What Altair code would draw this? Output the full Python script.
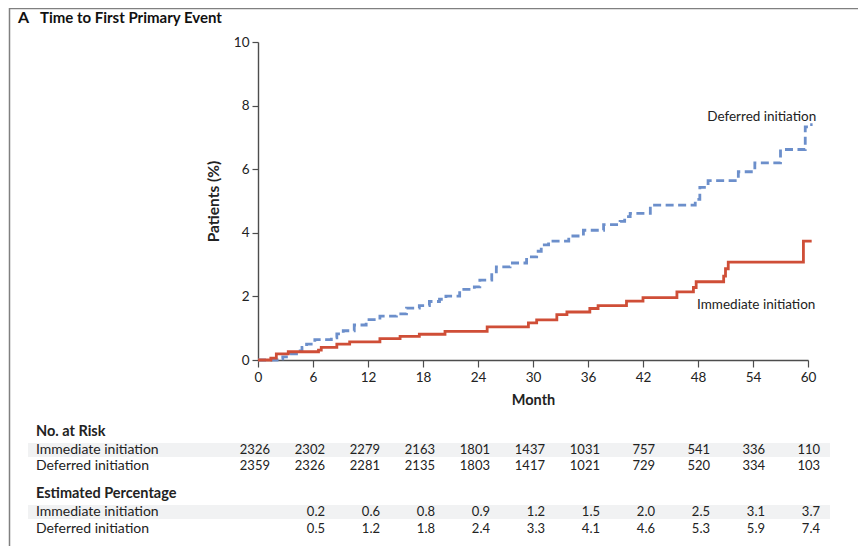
import altair as alt
import pandas as pd

# ---------------- data ----------------
imm_month = [0, 1.4, 2.0, 3.3, 6.6, 6.9, 8.6, 10.0, 13.3, 15.5, 17.6, 20.4, 25.0, 29.5,
             30.4, 32.6, 33.7, 36.2, 37.1, 40.2, 42.0, 45.7, 47.5, 47.8, 50.8, 51.0,
             51.3, 59.5, 60.4]
imm_pct = [0, 0.06, 0.19, 0.26, 0.31, 0.40, 0.50, 0.57, 0.67, 0.74, 0.81, 0.90, 1.04, 1.17,
           1.26, 1.43, 1.51, 1.62, 1.71, 1.85, 1.96, 2.14, 2.28, 2.46, 2.64, 2.87,
           3.08, 3.74, 3.74]

def_month = [0, 2.3, 2.7, 3.5, 4.2, 4.8, 5.3, 6.2, 8.0, 8.6, 9.3, 10.5, 11.8, 13.3, 15.1,
             16.2, 17.6, 18.7, 19.8, 20.5, 22.0, 23.6, 24.2, 25.5, 26.0, 27.5, 29.3, 30.4,
             30.9, 31.7, 33.9, 35.5, 37.7, 39.5, 40.0, 40.6, 42.8, 47.7, 48.2, 49.1, 52.4,
             54.2, 57.0, 59.7, 60.2, 60.5]
def_pct = [0, 0.04, 0.10, 0.19, 0.29, 0.40, 0.50, 0.64, 0.70, 0.82, 0.92, 1.10, 1.27, 1.38, 1.45,
           1.63, 1.71, 1.84, 1.91, 2.01, 2.22, 2.30, 2.51, 2.77, 2.93, 3.05, 3.24, 3.42,
           3.62, 3.74, 3.90, 4.08, 4.26, 4.36, 4.51, 4.61, 4.87, 5.05, 5.43, 5.64, 5.92,
           6.20, 6.62, 7.33, 7.40, 7.40]

tick_months = [0, 6, 12, 18, 24, 30, 36, 42, 48, 54, 60]
y_ticks = [0, 2, 4, 6, 8, 10]

risk_imm = [2326, 2302, 2279, 2163, 1801, 1437, 1031, 757, 541, 336, 110]
risk_def = [2359, 2326, 2281, 2135, 1803, 1417, 1021, 729, 520, 334, 103]

est_months = [6, 12, 18, 24, 30, 36, 42, 48, 54, 60]
est_imm = ["0.2", "0.6", "0.8", "0.9", "1.2", "1.5", "2.0", "2.5", "3.1", "3.7"]
est_def = ["0.5", "1.2", "1.8", "2.4", "3.3", "4.1", "4.6", "5.3", "5.9", "7.4"]

# ---------------- style ----------------
FONT = "Lato"
RED = "#CF4E37"
BLUE = "#6C8FCB"
TXT = "#222222"
AX = "#4d4d4d"
W, H = 550, 318

xscale = alt.Scale(domain=[0, 60], nice=False, zero=False)
yscale = alt.Scale(domain=[0, 10], nice=False)

imm_df = pd.DataFrame({"month": imm_month, "pct": imm_pct})
def_df = pd.DataFrame({"month": def_month, "pct": def_pct})
one = pd.DataFrame({"a": [0]})

x_axis = alt.Axis(values=tick_months, title="Month", grid=False, tickSize=7, labelPadding=3,
                  domainColor=AX, tickColor=AX, domainWidth=1.4, tickWidth=1.2,
                  labelFont=FONT, labelFontSize=13.5, labelColor=TXT, labelFlush=False,
                  titleFont=FONT, titleFontSize=14.5, titleFontWeight="bold", titleColor=TXT,
                  titlePadding=10)
y_axis = alt.Axis(values=y_ticks, title="Patients (%)", grid=False, tickSize=6, labelPadding=3,
                  domainColor=AX, tickColor=AX, domainWidth=1.4, tickWidth=1.2,
                  labelFont=FONT, labelFontSize=13.5, labelColor=TXT, labelFlush=False,
                  titleFont=FONT, titleFontSize=15.5, titleFontWeight="bold", titleColor=TXT,
                  titlePadding=12)

deferred = alt.Chart(def_df).mark_line(interpolate="step-after", color=BLUE, strokeWidth=2.8,
                                       strokeDash=[8, 4.5], clip=False).encode(
    x=alt.X("month:Q", scale=xscale, axis=x_axis),
    y=alt.Y("pct:Q", scale=yscale, axis=y_axis),
)
immediate = alt.Chart(imm_df).mark_line(interpolate="step-after", color=RED, strokeWidth=2.8,
                                        clip=False).encode(
    x=alt.X("month:Q", scale=xscale, axis=x_axis),
    y=alt.Y("pct:Q", scale=yscale, axis=y_axis),
)

lab_def = alt.Chart(one).mark_text(text="Deferred initiation", font=FONT, fontSize=13.5, color=TXT,
                                   align="right", baseline="middle").encode(
    x=alt.datum(60.9, scale=xscale), y=alt.datum(7.65, scale=yscale))
lab_imm = alt.Chart(one).mark_text(text="Immediate initiation", font=FONT, fontSize=13.5, color=TXT,
                                   align="left", baseline="middle").encode(
    x=alt.datum(47.9, scale=xscale), y=alt.datum(1.72, scale=yscale))

# title
t_a = alt.Chart(one).mark_text(text="A", font=FONT, fontSize=16, fontWeight="bold", color="#111",
                               align="left", baseline="middle").encode(
    x=alt.value(-240), y=alt.value(-24))
t_main = alt.Chart(one).mark_text(text="Time to First Primary Event", font=FONT, fontSize=15,
                                  fontWeight="bold", color="#111", align="left",
                                  baseline="middle").encode(
    x=alt.value(-218), y=alt.value(-24))

# frame
frame_left = alt.Chart(one).mark_rule(color="#808080", strokeWidth=1.5).encode(
    x=alt.value(-248.5), y=alt.value(-34), y2=alt.value(504))
frame_top = alt.Chart(one).mark_rule(color="#808080", strokeWidth=1.5).encode(
    x=alt.value(-248.5), x2=alt.value(600), y=alt.value(-33.5))

# table bands
band1 = alt.Chart(one).mark_rect(color="#F1F2F3").encode(
    x=alt.value(-230), x2=alt.value(572), y=alt.value(401), y2=alt.value(415))
band2 = alt.Chart(one).mark_rect(color="#F1F2F3").encode(
    x=alt.value(-230), x2=alt.value(572), y=alt.value(463), y2=alt.value(477))


def row_label(text, y, bold=False):
    return alt.Chart(one).mark_text(text=text, font=FONT, fontSize=14 if not bold else 14.5,
                                    fontWeight="bold" if bold else "normal", color=TXT,
                                    align="left", baseline="middle").encode(
        x=alt.value(-222), y=alt.value(y))


def row_vals(months, vals, y):
    df = pd.DataFrame({"month": months, "v": [str(v) for v in vals]})
    return alt.Chart(df).mark_text(font=FONT, fontSize=13, color=TXT, align="right",
                                   baseline="middle", dx=12).encode(
        x=alt.X("month:Q", scale=xscale, axis=x_axis), y=alt.value(y), text="v:N")


layers = [
    band1, band2, frame_left, frame_top,
    deferred, immediate, lab_def, lab_imm, t_a, t_main,
    row_label("No. at Risk", 390, True),
    row_label("Immediate initiation", 408),
    row_label("Deferred initiation", 424),
    row_label("Estimated Percentage", 452, True),
    row_label("Immediate initiation", 470),
    row_label("Deferred initiation", 487),
    row_vals(tick_months, risk_imm, 408),
    row_vals(tick_months, risk_def, 424),
    row_vals(est_months, est_imm, 470),
    row_vals(est_months, est_def, 487),
]

chart = alt.layer(*layers).properties(
    width=W, height=H,
    autosize=alt.AutoSizeParams(type="none"),
    padding={"left": 250, "top": 34, "right": 50, "bottom": 186},
    background="white",
).configure_view(stroke=None)

chart.save("out.html", embed_options={"renderer": "svg", "actions": False})
